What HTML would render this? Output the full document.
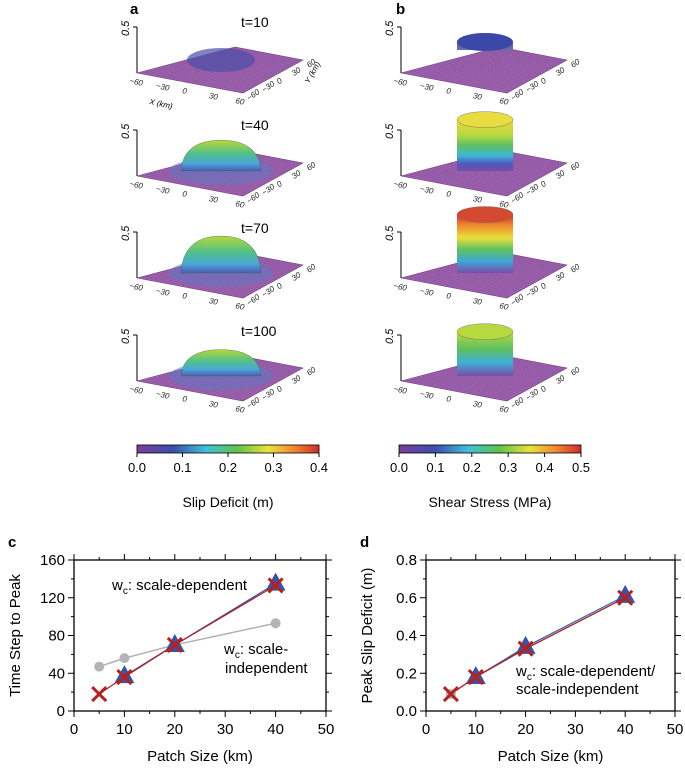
<!DOCTYPE html>
<html><head><meta charset="utf-8"><style>
body{margin:0;background:#fff;font-family:"Liberation Sans",sans-serif}
svg{display:block}
text{font-family:"Liberation Sans",sans-serif}
</style></head><body>
<svg id="s" width="685" height="768" viewBox="0 0 685 768">
<defs>
<linearGradient id="cb" x1="0" x2="1" y1="0" y2="0">
<stop offset="0" stop-color="#7a3e9a"/><stop offset="0.2" stop-color="#3b4fb0"/><stop offset="0.38" stop-color="#3fc1d8"/><stop offset="0.55" stop-color="#5fc24a"/><stop offset="0.72" stop-color="#e8e33a"/><stop offset="0.86" stop-color="#f08a30"/><stop offset="1" stop-color="#d42a2a"/>
</linearGradient>
<linearGradient id="domeG" x1="0" x2="0" y1="0" y2="1">
<stop offset="0" stop-color="#b6d83a"/><stop offset="0.45" stop-color="#4fbf8a"/><stop offset="0.75" stop-color="#4aa8d8"/><stop offset="1" stop-color="#4b5cb5"/>
</linearGradient>
<linearGradient id="cyl40" x1="0" x2="0" y1="0" y2="1">
<stop offset="0" stop-color="#e8d83a"/><stop offset="0.3" stop-color="#b8d840"/><stop offset="0.5" stop-color="#5cc060"/><stop offset="0.7" stop-color="#3fb8d8"/><stop offset="0.85" stop-color="#4a5cc0"/><stop offset="1" stop-color="#7a4aa8"/>
</linearGradient>
<linearGradient id="cyl70" x1="0" x2="0" y1="0" y2="1">
<stop offset="0" stop-color="#d43030"/><stop offset="0.2" stop-color="#f09030"/><stop offset="0.4" stop-color="#e8e03a"/><stop offset="0.6" stop-color="#5cc060"/><stop offset="0.8" stop-color="#3fa8d8"/><stop offset="1" stop-color="#7a4aa8"/>
</linearGradient>
<linearGradient id="cyl100" x1="0" x2="0" y1="0" y2="1">
<stop offset="0" stop-color="#b8d840"/><stop offset="0.4" stop-color="#5cc060"/><stop offset="0.7" stop-color="#3fb0d8"/><stop offset="1" stop-color="#7a4aa8"/>
</linearGradient>
</defs>
<g id="panels"></g>
<g id="charts"></g>
</svg>
<script>
const NS="http://www.w3.org/2000/svg";
const S=document.getElementById('s');
function mk(tag,attrs,parent,txt){const e=document.createElementNS(NS,tag);for(const k in attrs)e.setAttribute(k,attrs[k]);if(txt!==undefined)e.textContent=txt;(parent||S).appendChild(e);return e;}

// ---- 3D panels ----
const times=["t=10","t=40","t=70","t=100"];
const slipHeights=[0.1,0.35,0.42,0.3];
const stressHeights=[0.05,0.58,0.66,0.5];
const panelOffsets=[0,103,205,308];
const P=document.getElementById('panels');
function panel(ox,oy,kind,i){
  const g=mk('g',{},P);
  
  
  const L=[ox+0,oy+73],B=[ox+98,oy+47],R=[ox+166,oy+60],F=[ox+106,oy+93];
  mk('polygon',{points:[L,B,R,F].map(p=>p.join(',')).join(' '),fill:'#a264b0',stroke:'#6a3a7a','stroke-width':0.6},g);
  for(let k=1;k<24;k++){const t=k/24;
    mk('line',{x1:L[0]+(F[0]-L[0])*t,y1:L[1]+(F[1]-L[1])*t,x2:B[0]+(R[0]-B[0])*t,y2:B[1]+(R[1]-B[1])*t,stroke:'#84509a','stroke-width':0.4},g);
    mk('line',{x1:L[0]+(B[0]-L[0])*t,y1:L[1]+(B[1]-L[1])*t,x2:F[0]+(R[0]-F[0])*t,y2:F[1]+(R[1]-F[1])*t,stroke:'#84509a','stroke-width':0.4},g);}
  const cx=ox+84,cy=oy+68;
  if(kind==='slip'){
    const h=slipHeights[i]/0.5*44;
    if(i===0){mk('ellipse',{cx:cx,cy:cy-8,rx:34,ry:12,fill:'#4a4fa8',opacity:0.7},g);}
    else{mk('ellipse',{cx:cx,cy:cy,rx:52,ry:14,fill:'#5a7ac8',opacity:0.5},g);
      mk('path',{d:`M${cx-40},${cy} Q${cx-38},${cy-h} ${cx},${cy-h} Q${cx+38},${cy-h} ${cx+40},${cy} Z`,fill:'url(#domeG)',stroke:'#4a6a40','stroke-width':0.4},g);}
  } else {
    const h=stressHeights[i]/0.7*62;
    if(i===0){mk('rect',{x:cx-28,y:cy-26,width:56,height:8,fill:'#6a6ab0'},g);mk('ellipse',{cx:cx,cy:cy-26,rx:28,ry:9,fill:'#3a48a8'},g);}
    else{const fill=['','url(#cyl40)','url(#cyl70)','url(#cyl100)'][i];
      mk('rect',{x:cx-28,y:cy-h,width:56,height:h,fill:fill},g);
      mk('ellipse',{cx:cx,cy:cy-h,rx:28,ry:8,fill:i===2?'#d44a30':(i===1?'#e8dc40':'#b8d840'),stroke:'#666','stroke-width':0.4},g);}
  }
  mk('line',{x1:ox,y1:oy+27,x2:ox,y2:oy+73,stroke:'#000','stroke-width':1},g);
  mk('line',{x1:ox,y1:oy+27,x2:ox-4,y2:oy+27,stroke:'#000','stroke-width':1},g);
  const t=mk('text',{x:ox-8,y:oy+36,'font-size':11,'font-style':'italic',transform:`rotate(-90 ${ox-8} ${oy+36})`},g,'0.5');
  
  const xl=["−60","−30","0","30","60"];
  xl.forEach((s,k)=>{const tt=k/4;const x=L[0]+(F[0]-L[0])*tt-8,y=L[1]+(F[1]-L[1])*tt+10;
    mk('text',{x:x,y:y,'font-size':8,'font-style':'italic',transform:`rotate(12 ${x} ${y})`,fill:'#222'},g,s);
    const x2=F[0]+(R[0]-F[0])*tt+6,y2=F[1]+(R[1]-F[1])*tt+8;
    mk('text',{x:x2,y:y2,'font-size':8,'font-style':'italic',transform:`rotate(-35 ${x2} ${y2})`,fill:'#222'},g,s);});
  if(kind==='slip'&&i===0){mk('text',{x:ox+12,y:oy+104,'font-size':8,'font-style':'italic',transform:`rotate(12 ${ox+12} ${oy+104})`},g,'X (km)');
    mk('text',{x:ox+172,y:oy+84,'font-size':8,'font-style':'italic',transform:`rotate(-60 ${ox+172} ${oy+84})`},g,'Y (km)');}
  if(kind==='slip'){const tl=mk('text',{x:ox+104,y:oy+[27,27,28,28][i],'font-size':14},g,times[i]);}
}
panelOffsets.forEach((o,i)=>{panel(137,o,'slip',i);panel(401,o,'stress',i);});
mk('text',{x:130,y:14,'font-size':15,'font-weight':'bold'},P,'a');
mk('text',{x:396,y:14,'font-size':15,'font-weight':'bold'},P,'b');

function cbar(x,ticks,title,name){
  const g=mk('g',{},P);
  mk('rect',{x:x,y:445,width:182,height:8,fill:'url(#cb)',stroke:'#000','stroke-width':0.8},g);
  ticks.forEach((t,k)=>{const xx=x+182*k/(ticks.length-1);mk('line',{x1:xx,y1:453,x2:xx,y2:457,stroke:'#000'},g);
    mk('text',{x:xx,y:472,'font-size':13,'text-anchor':'middle'},g,t);});
  mk('text',{x:x+91,y:507,'font-size':14,'text-anchor':'middle'},g,title);
}
cbar(137,["0.0","0.1","0.2","0.3","0.4"],"Slip Deficit (m)","slip-colorbar");
cbar(399,["0.0","0.1","0.2","0.3","0.4","0.5"],"Shear Stress (MPa)","stress-colorbar");

// ---- charts ----
const cTriX=[10,20,40], cTriY=[37,70,135];
const cCrossX=[5,10,20,40], cCrossY=[18,36,70,133];
const cGreyX=[5,10,20,40], cGreyY=[47,56,70,93];
const dTriX=[10,20,40], dTriY=[0.18,0.34,0.61];
const dCrossX=[5,10,20,40], dCrossY=[0.09,0.18,0.33,0.6];
const dGreyX=[5,10,20,40], dGreyY=[0.09,0.18,0.33,0.6];
const xTicks=[0,10,20,30,40,50];
const cYTicks=[0,40,80,120,160];
const dYTicks=["0.0","0.2","0.4","0.6","0.8"];

const C=document.getElementById('charts');
function chart(x0,x1,ymax,yTicks,label,ylab,gx,gy,tx,ty,cx,cy,name){
  const y0=711,y1=560;
  const sx=v=>x0+(x1-x0)*v/50, sy=v=>y0-(y0-y1)*v/ymax;
  const g=mk('g',{},C);
  mk('rect',{x:x0,y:y1,width:x1-x0,height:y0-y1,fill:'none',stroke:'#000','stroke-width':1.3},g);
  for(let v=0;v<=50;v+=5){const X=sx(v),L=v%10==0?6:3;
    mk('line',{x1:X,y1:y0,x2:X,y2:y0+L,stroke:'#000'},g);mk('line',{x1:X,y1:y1,x2:X,y2:y1-L,stroke:'#000'},g);}
  xTicks.forEach(v=>mk('text',{x:sx(v),y:y0+23,'font-size':15,'text-anchor':'middle'},g,v));
  for(let k=0;k<=8;k++){const v=ymax*k/8,Y=sy(v),L=k%2==0?6:3;
    mk('line',{x1:x0,y1:Y,x2:x0-L,y2:Y,stroke:'#000'},g);mk('line',{x1:x1,y1:Y,x2:x1+L,y2:Y,stroke:'#000'},g);}
  yTicks.forEach((t,k)=>mk('text',{x:x0-9,y:sy(ymax*k/4)+5,'font-size':15,'text-anchor':'end'},g,t));
  mk('text',{x:(x0+x1)/2,y:761,'font-size':15,'text-anchor':'middle'},g,'Patch Size (km)');
  mk('text',{x:x0-54,y:(y0+y1)/2,'font-size':15,'text-anchor':'middle',transform:`rotate(-90 ${x0-54} ${(y0+y1)/2})`},g,ylab);
  mk('text',{x:x0-66,y:547,'font-size':15,'font-weight':'bold'},g,label);
  const pts=(X,Y)=>X.map((v,k)=>sx(v)+','+sy(Y[k])).join(' ');
  mk('polyline',{points:pts(gx,gy),fill:'none',stroke:'#b0b0b8','stroke-width':1.5},g);
  gx.forEach((v,k)=>{const c=mk('circle',{cx:sx(v),cy:sy(gy[k]),r:5,fill:'#b4b4b4'},g);});
  mk('polyline',{points:pts(tx,ty),fill:'none',stroke:'#3a5cb0','stroke-width':1.2},g);
  tx.forEach((v,k)=>{const X=sx(v),Y=sy(ty[k]);const p=mk('polygon',{points:`${X},${Y-11} ${X-10},${Y+7} ${X+10},${Y+7}`,fill:'#3356a8'},g);});
  mk('polyline',{points:pts(cx,cy),fill:'none',stroke:'#b02020','stroke-width':1.2},g);
  cx.forEach((v,k)=>{const X=sx(v),Y=sy(cy[k]);const q=mk('path',{d:`M${X-7},${Y-7}L${X+7},${Y+7}M${X+7},${Y-7}L${X-7},${Y+7}`,stroke:'#b82020','stroke-width':3},g);});
  return g;
}
const gc=chart(74,326,160,cYTicks,'c','Time Step to Peak',cGreyX,cGreyY,cTriX,cTriY,cCrossX,cCrossY,'chart-c');
let t=mk('text',{x:112,y:590,'font-size':15},gc);t.innerHTML='w<tspan font-size="10" dy="4">c</tspan><tspan dy="-4">: scale-dependent</tspan>';
t=mk('text',{x:224,y:654,'font-size':15},gc);t.innerHTML='w<tspan font-size="10" dy="4">c</tspan><tspan dy="-4">: scale-</tspan>';
mk('text',{x:225,y:673,'font-size':15},gc,'independent');
const gd=chart(426,675,0.8,dYTicks,'d','Peak Slip Deficit (m)',dGreyX,dGreyY,dTriX,dTriY,dCrossX,dCrossY,'chart-d');
t=mk('text',{x:516,y:676,'font-size':15},gd);t.innerHTML='w<tspan font-size="10" dy="4">c</tspan><tspan dy="-4">: scale-dependent/</tspan>';
mk('text',{x:516,y:694,'font-size':15},gd,'scale-independent');
</script>
</body></html>
